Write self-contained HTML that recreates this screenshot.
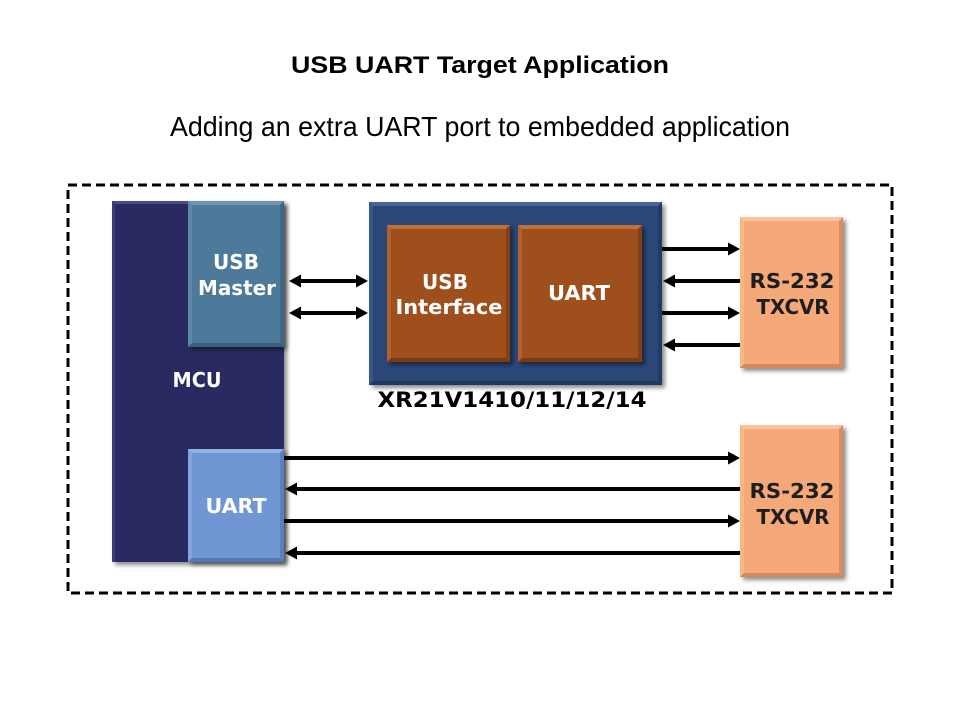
<!DOCTYPE html>
<html>
<head>
<meta charset="utf-8">
<style>
  html, body { margin: 0; padding: 0; background: #ffffff; }
  body { width: 960px; height: 720px; overflow: hidden; }
  svg { display: block; }
  .t { font-family: "DejaVu Sans", "Liberation Sans", sans-serif; font-weight: bold; }
</style>
</head>
<body>
<svg width="960" height="720" viewBox="0 0 960 720" xmlns="http://www.w3.org/2000/svg">
  <defs>
    <filter id="sh" x="-10%" y="-10%" width="130%" height="130%">
      <feDropShadow dx="3" dy="3" stdDeviation="2" flood-color="#000" flood-opacity="0.45"/>
    </filter>
  </defs>

  <!-- Titles -->
  <text x="480" y="73" text-anchor="middle" font-family="Liberation Sans, sans-serif" font-weight="bold" font-size="24" textLength="378" lengthAdjust="spacingAndGlyphs" fill="#000">USB UART Target Application</text>
  <text x="480" y="136" text-anchor="middle" font-family="Liberation Sans, sans-serif" font-size="28" textLength="620" lengthAdjust="spacingAndGlyphs" fill="#000">Adding an extra UART port to embedded application</text>

  <!-- Dashed border -->
  <rect x="68" y="185" width="824" height="408" fill="none" stroke="#000" stroke-width="3" stroke-dasharray="9,5"/>

  <!-- MCU -->
  <g filter="url(#sh)">
    <rect x="112" y="201" width="172" height="361" fill="#2b2a62"/>
  </g>
  <rect x="112" y="201" width="172" height="3" fill="#4a4a86"/>
  <rect x="112" y="201" width="3" height="361" fill="#3c3b78"/>

  <!-- USB Master -->
  <g filter="url(#sh)">
    <rect x="188" y="201" width="96" height="146" fill="#4e7a9b"/>
  </g>
  <polygon points="188,201 284,201 280,205 192,205" fill="#6d95b4"/>
  <polygon points="188,201 192,205 192,343 188,347" fill="#5f89a9"/>
  <polygon points="284,201 284,347 280,343 280,205" fill="#3f6683"/>
  <polygon points="188,347 284,347 280,343 192,343" fill="#3b5f7b"/>

  <!-- Lower UART -->
  <g filter="url(#sh)">
    <rect x="188" y="449" width="96" height="113" fill="#7096d4"/>
  </g>
  <polygon points="188,449 284,449 280,453 192,453" fill="#93b2e4"/>
  <polygon points="188,449 192,453 192,558 188,562" fill="#84a6de"/>
  <polygon points="284,449 284,562 280,558 280,453" fill="#5a7fbd"/>
  <polygon points="188,562 284,562 280,558 192,558" fill="#5677b2"/>

  <!-- XR outer -->
  <g filter="url(#sh)">
    <rect x="369" y="202" width="293" height="183" fill="#2b4778"/>
  </g>
  <polygon points="369,202 662,202 658,206 373,206" fill="#46659a"/>
  <polygon points="369,202 373,206 373,381 369,385" fill="#3a5889"/>
  <polygon points="662,202 662,385 658,381 658,206" fill="#223a63"/>
  <polygon points="369,385 662,385 658,381 373,381" fill="#1f365d"/>

  <!-- Inner USB Interface -->
  <g filter="url(#sh)">
    <rect x="387" y="225" width="123" height="137" fill="#9e4f1c"/>
  </g>
  <polygon points="387,225 510,225 506,229 391,229" fill="#c0713a"/>
  <polygon points="387,225 391,229 391,358 387,362" fill="#b06130"/>
  <polygon points="510,225 510,362 506,358 506,229" fill="#834015"/>
  <polygon points="387,362 510,362 506,358 391,358" fill="#7b3b12"/>

  <!-- Inner UART -->
  <g filter="url(#sh)">
    <rect x="518" y="225" width="124" height="137" fill="#9e4f1c"/>
  </g>
  <polygon points="518,225 642,225 638,229 522,229" fill="#c0713a"/>
  <polygon points="518,225 522,229 522,358 518,362" fill="#b06130"/>
  <polygon points="642,225 642,362 638,358 638,229" fill="#834015"/>
  <polygon points="518,362 642,362 638,358 522,358" fill="#7b3b12"/>

  <!-- RS-232 top -->
  <g filter="url(#sh)">
    <rect x="740" y="217" width="103" height="151" fill="#f5a878"/>
  </g>
  <polygon points="740,217 843,217 839,221 744,221" fill="#fbc39c"/>
  <polygon points="740,217 744,221 744,364 740,368" fill="#f8b789"/>
  <polygon points="843,217 843,368 839,364 839,221" fill="#d98e5f"/>
  <polygon points="740,368 843,368 839,364 744,364" fill="#d4895a"/>

  <!-- RS-232 bottom -->
  <g filter="url(#sh)">
    <rect x="740" y="425" width="103" height="152" fill="#f5a878"/>
  </g>
  <polygon points="740,425 843,425 839,429 744,429" fill="#fbc39c"/>
  <polygon points="740,425 744,429 744,573 740,577" fill="#f8b789"/>
  <polygon points="843,425 843,577 839,573 839,429" fill="#d98e5f"/>
  <polygon points="740,577 843,577 839,573 744,573" fill="#d4895a"/>

  <!-- Labels -->
  <g class="t" fill="#ffffff" font-size="20.5">
    <text x="236" y="269" text-anchor="middle" textLength="46" lengthAdjust="spacingAndGlyphs">USB</text>
    <text x="237" y="295" text-anchor="middle" textLength="78" lengthAdjust="spacingAndGlyphs">Master</text>
    <text x="197" y="387" text-anchor="middle" textLength="49" lengthAdjust="spacingAndGlyphs">MCU</text>
    <text x="236" y="513" text-anchor="middle" textLength="61" lengthAdjust="spacingAndGlyphs">UART</text>
    <text x="445" y="289" text-anchor="middle" textLength="46" lengthAdjust="spacingAndGlyphs">USB</text>
    <text x="449" y="314" text-anchor="middle" textLength="107" lengthAdjust="spacingAndGlyphs">Interface</text>
    <text x="579" y="300" text-anchor="middle" textLength="62" lengthAdjust="spacingAndGlyphs">UART</text>
  </g>
  <g class="t" fill="#1e1e1e" font-size="20.5">
    <text x="792" y="288" text-anchor="middle" textLength="85" lengthAdjust="spacingAndGlyphs">RS-232</text>
    <text x="793" y="314" text-anchor="middle" textLength="73" lengthAdjust="spacingAndGlyphs">TXCVR</text>
    <text x="792" y="498" text-anchor="middle" textLength="85" lengthAdjust="spacingAndGlyphs">RS-232</text>
    <text x="793" y="524" text-anchor="middle" textLength="73" lengthAdjust="spacingAndGlyphs">TXCVR</text>
  </g>
  <text class="t" x="512" y="407" text-anchor="middle" font-size="21" textLength="269" lengthAdjust="spacingAndGlyphs" fill="#000">XR21V1410/11/12/14</text>

  <!-- Arrows -->
  <g stroke="#000" stroke-width="4" fill="none">
    <line x1="298" y1="281" x2="359" y2="281"/>
    <line x1="298" y1="313" x2="359" y2="313"/>
    <line x1="662" y1="249" x2="730" y2="249"/>
    <line x1="672" y1="281" x2="740" y2="281"/>
    <line x1="662" y1="313" x2="730" y2="313"/>
    <line x1="672" y1="345" x2="740" y2="345"/>
    <line x1="284" y1="458" x2="730" y2="458"/>
    <line x1="294" y1="489" x2="740" y2="489"/>
    <line x1="284" y1="521" x2="730" y2="521"/>
    <line x1="294" y1="553" x2="740" y2="553"/>
  </g>
  <g fill="#000">
    <polygon points="289,281 301,274.5 301,287.5"/>
    <polygon points="368,281 356,274.5 356,287.5"/>
    <polygon points="289,313 301,306.5 301,319.5"/>
    <polygon points="368,313 356,306.5 356,319.5"/>
    <polygon points="740,249 728,242.5 728,255.5"/>
    <polygon points="663,281 675,274.5 675,287.5"/>
    <polygon points="740,313 728,306.5 728,319.5"/>
    <polygon points="663,345 675,338.5 675,351.5"/>
    <polygon points="740,458 728,451.5 728,464.5"/>
    <polygon points="285,489 297,482.5 297,495.5"/>
    <polygon points="740,521 728,514.5 728,527.5"/>
    <polygon points="285,553 297,546.5 297,559.5"/>
  </g>
</svg>
</body>
</html>
